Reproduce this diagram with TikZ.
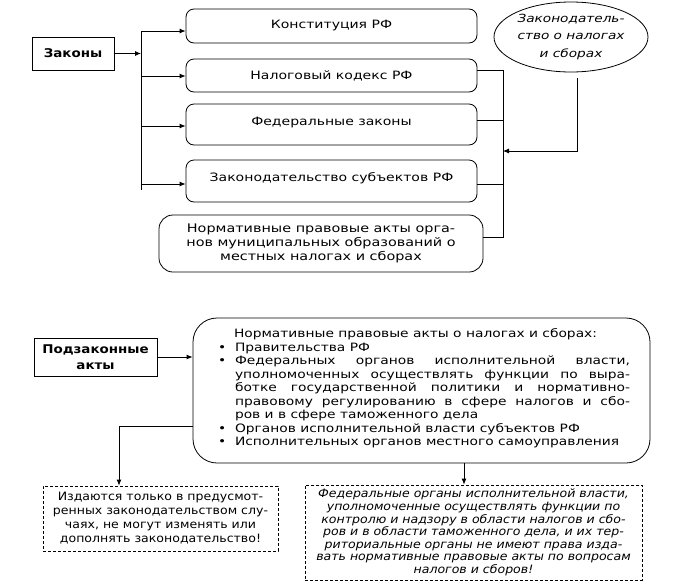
\documentclass[tikz,border=0pt]{standalone}
\usepackage{fontspec}
\setmainfont{DejaVu Sans}
\newfontfamily\fntrbox{DejaVu Sans}[FakeStretch=1.22]
\newfontfamily\fntbig{DejaVu Sans}[FakeStretch=1.2]
\newfontfamily\fntbold{DejaVu Sans}[FakeStretch=1.12]
\newfontfamily\fntdash{DejaVu Sans}[FakeStretch=1.09]
\usetikzlibrary{shapes.geometric,arrows.meta}
\newcommand{\jline}[1]{\makebox[395pt][s]{#1}}
\newcommand{\bul}{\makebox[0pt][r]{\makebox[17pt][l]{•}}}
\begin{document}
\begin{tikzpicture}[x=1pt,y=-1pt,
  line width=0.8pt,
  arr/.style={-{Latex[length=6pt,width=5pt]}},
  sqbox/.style={draw, align=center, inner sep=0pt, font=\fntbold\fontsize{12}{16}\selectfont\bfseries},
  rbox/.style={draw, rounded corners=8pt, minimum width=291pt, align=center, inner sep=0pt, font=\fntrbox\fontsize{11.5}{15.5}\selectfont},
  ell/.style={draw, ellipse, minimum width=154pt, minimum height=70pt, align=center, inner sep=0pt, font=\fntrbox\fontsize{11.2}{17.5}\selectfont\itshape},
  dbox/.style={draw, dash pattern=on 3pt off 2pt, align=center, inner sep=0pt, font=\fntdash\fontsize{11.5}{14}\selectfont}
]
\useasboundingbox (0,0) rectangle (694,584);

% --- Laws ---
\node[sqbox, minimum width=82pt, minimum height=33pt] (zak) at (73,53.5) {Законы};
\node[rbox, minimum height=34pt] (b1) at (331.5,26) {Конституция РФ};
\node[rbox, minimum height=33pt] (b2) at (331.5,75.5) {Налоговый кодекс РФ};
\node[rbox, minimum height=41pt] (b3) at (331.5,124.5) {\raisebox{7pt}{Федеральные законы}};
\node[rbox, minimum height=42pt] (b4) at (331.5,181) {\raisebox{7pt}{Законодательство субъектов РФ}};
\node[rbox, rounded corners=14pt, minimum width=324pt, minimum height=57pt, font=\fntrbox\fontsize{11.8}{14.2}\selectfont] (b5) at (321,243.5) {Нормативные правовые акты орга-\\нов муниципальных образований о\\местных налогах и сборах};
\node[ell] (ell) at (571,37) {Законодатель-\\ство о налогах\\и сборах};

\coordinate (t0) at (141,53.5);
\coordinate (t1) at (141,31);
\coordinate (t2) at (141,76);
\coordinate (t3) at (141,126);
\coordinate (t4) at (141,184);
\coordinate (tend) at (141,190);
\draw (t1) -- (tend);
\draw[arr] (zak.east) -- (t0);
\draw[arr] (t1) -- (t1 -| b1.west);
\draw[arr] (t2) -- (t2 -| b2.west);
\draw[arr] (t3) -- (t3 -| b3.west);
\draw[arr] (t4) -- (t4 -| b4.west);

\coordinate (r2) at (503,70);
\coordinate (r3) at (503,120);
\coordinate (r4) at (503,184);
\coordinate (r5) at (503,237);
\coordinate (rm) at (503,151);
\draw (r2 -| b2.east) -- (r2) -- (r5) -- (r5 -| b5.east);
\draw (r3 -| b3.east) -- (r3);
\draw (r4 -| b4.east) -- (r4);
\coordinate (e1) at (577,78);
\draw[arr] (e1) -- (e1 |- rm) -- (rm);

% --- By-laws ---
\node[sqbox, minimum width=123pt, minimum height=38pt] (pz) at (95.5,357) {Подзаконные\\акты};
\node[draw, rounded corners=24pt, minimum width=457pt, minimum height=145pt, inner sep=0pt, font=\fntbig\fontsize{11.5}{13.5}\selectfont] (big) at (421.5,390.5) {\parbox{457pt}{\raggedright
\hspace*{41pt}Нормативные правовые акты о налогах и сборах:\\
\hspace*{42pt}\bul Правительства РФ\\
\hspace*{42pt}\bul\jline{Федеральных органов исполнительной власти,}\\
\hspace*{42pt}\jline{уполномоченных осуществлять функции по выра-}\\
\hspace*{42pt}\jline{ботке государственной политики и нормативно-}\\
\hspace*{42pt}\jline{правовому регулированию в сфере налогов и сбо-}\\
\hspace*{42pt}ров и в сфере таможенного дела\\
\hspace*{42pt}\bul Органов исполнительной власти субъектов РФ\\
\hspace*{42pt}\bul Исполнительных органов местного самоуправления\par\vspace{4pt}}};

\node[dbox, minimum width=235pt, minimum height=65pt] (d1) at (160.5,518.5) {Издаются только в предусмот-\\ренных законодательством слу-\\чаях, не могут изменять или\\дополнять законодательство!};
\node[dbox, minimum width=337pt, minimum height=95pt, font=\fntdash\fontsize{11.5}{12.6}\selectfont\itshape] (d2) at (473.5,532.5) {Федеральные органы исполнительной власти,\\уполномоченные осуществлять функции по\\контролю и надзору в области налогов и сбо-\\ров и в области таможенного дела, и их тер-\\риториальные органы не имеют права изда-\\вать нормативные правовые акты по вопросам\\налогов и сборов!};

\draw[arr] (pz.east) -- (pz.east -| big.west);
\coordinate (l1) at (119,426);
\draw[arr] (l1 -| big.west) -- (l1) -- (l1 |- d1.north);
\coordinate (ra) at (464,0);
\draw[arr] (ra |- big.south) -- (ra |- d2.north);
\end{tikzpicture}
\end{document}
